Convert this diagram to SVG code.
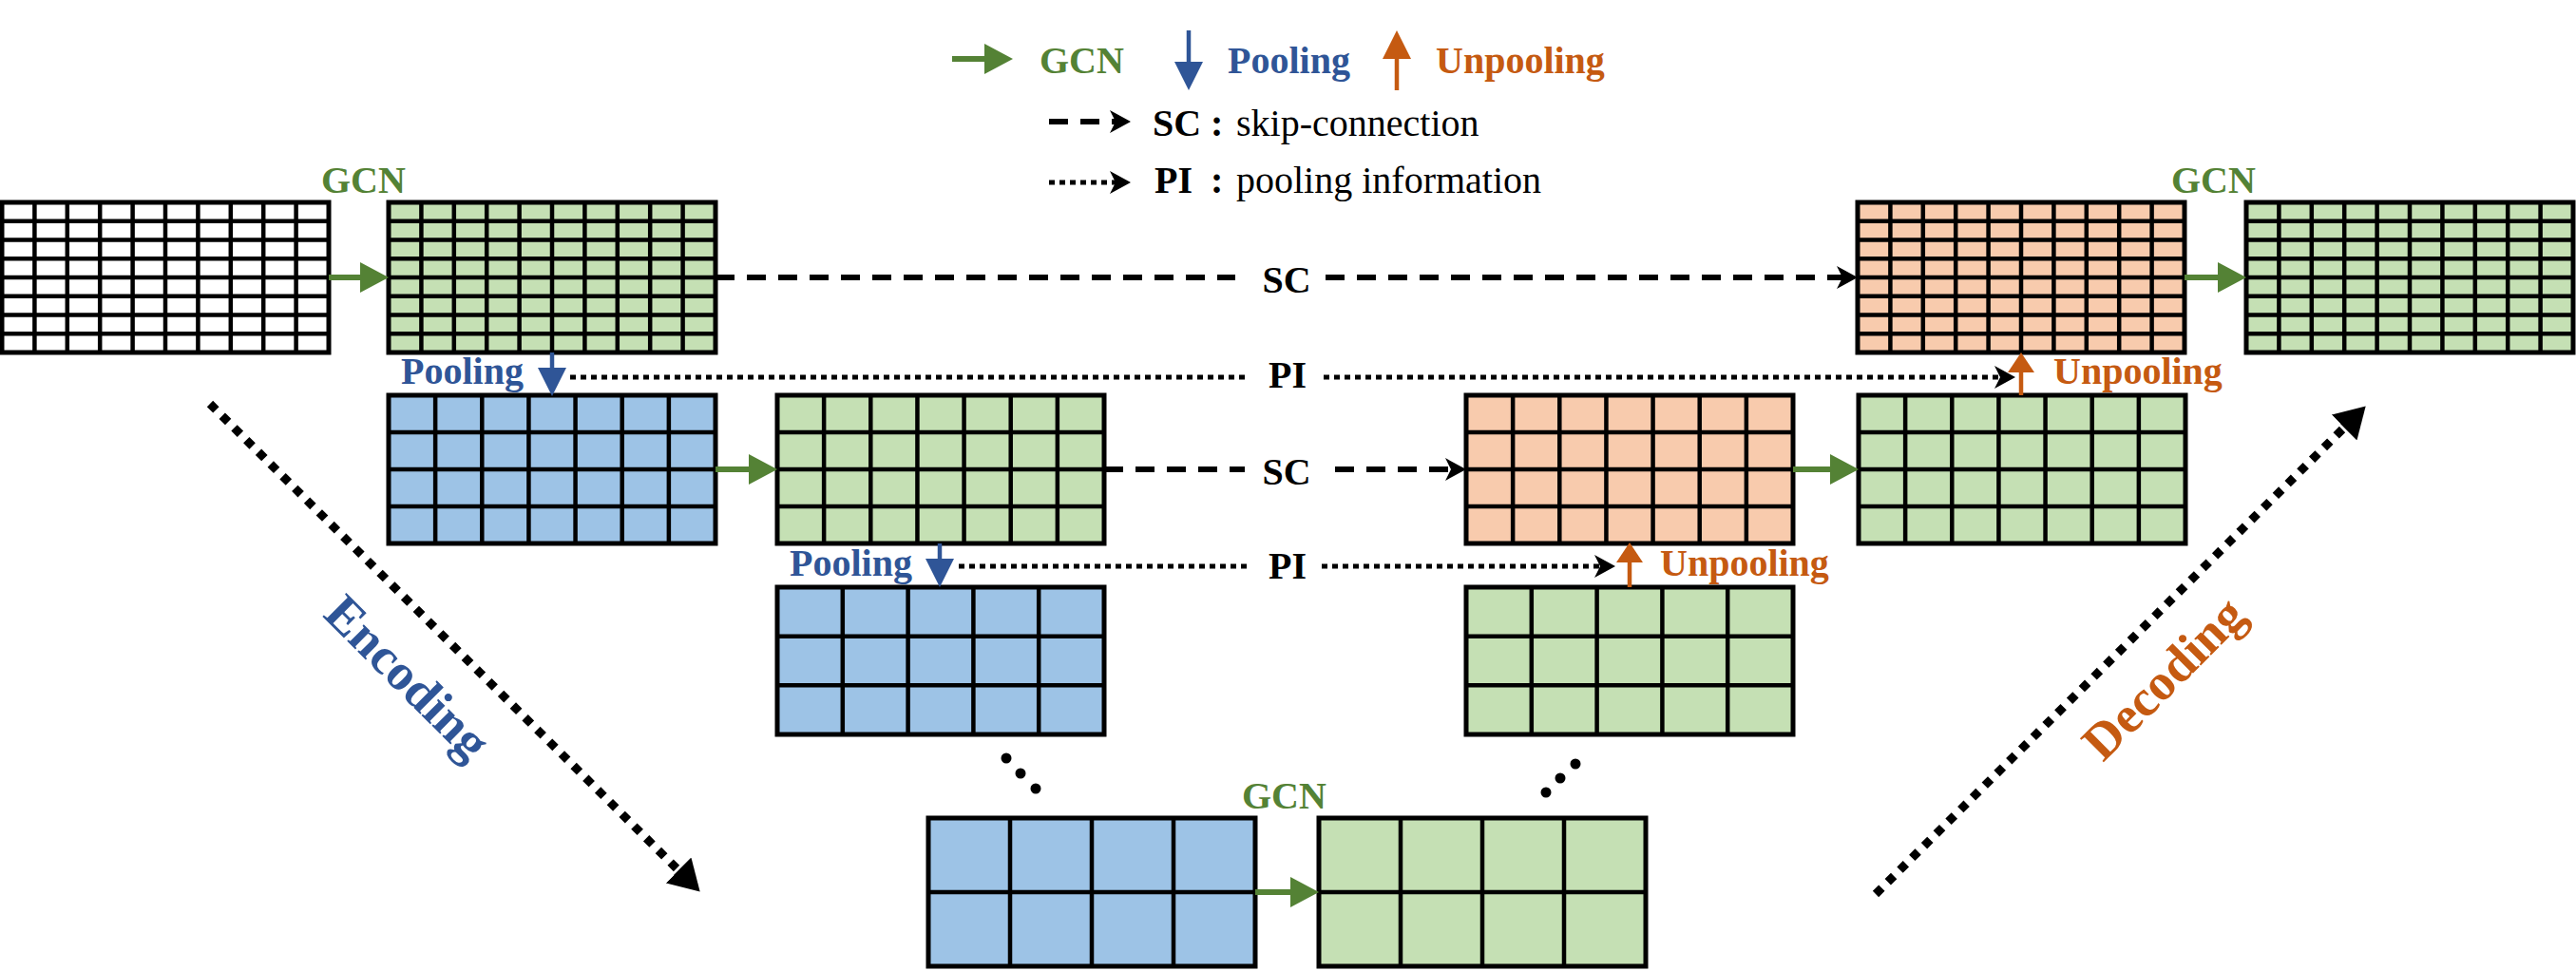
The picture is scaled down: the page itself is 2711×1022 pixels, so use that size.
<svg xmlns="http://www.w3.org/2000/svg" xmlns:xlink="http://www.w3.org/1999/xlink" width="2711" height="1022" viewBox="0 0 2711 1022">
<style>
.wh{fill:#ffffff}.gr{fill:#C5E0B4}.bl{fill:#9DC3E6}.or{fill:#F8CBAD}
.frame{fill:none;stroke:#000;stroke-width:5}
.lines{fill:none;stroke:#000;stroke-width:4.5}
.t{font-family:"Liberation Serif","Times New Roman",serif;font-weight:bold;font-size:40px}
.big{font-size:54px}
.g{fill:#548235}.b{fill:#2F5597}.o{fill:#C55A11}.k{fill:#000}
.ag{stroke:#548235;stroke-width:6;fill:none}
.ab{stroke:#2F5597;stroke-width:4.5;fill:none}
.ao{stroke:#C55A11;stroke-width:4.5;fill:none}
.sc{stroke:#000;stroke-width:6;stroke-dasharray:20 13;fill:none}
.pi{stroke:#000;stroke-width:5;stroke-dasharray:6 5;fill:none}
.dir{stroke:#000;stroke-width:9;stroke-dasharray:9 9;fill:none}
</style>
<defs>
<marker id="mG" markerUnits="userSpaceOnUse" markerWidth="30" markerHeight="32" refX="0" refY="16" orient="auto" viewBox="0 0 30 32"><path d="M0,0 L30,16 L0,32 Z" fill="#548235"/></marker>
<marker id="mB" markerUnits="userSpaceOnUse" markerWidth="30" markerHeight="30" refX="0" refY="15" orient="auto" viewBox="0 0 30 30"><path d="M0,0 L30,15 L0,30 Z" fill="#2F5597"/></marker>
<marker id="mO" markerUnits="userSpaceOnUse" markerWidth="30" markerHeight="30" refX="0" refY="15" orient="auto" viewBox="0 0 30 30"><path d="M0,0 L30,15 L0,30 Z" fill="#C55A11"/></marker>
<marker id="mOs" markerUnits="userSpaceOnUse" markerWidth="21" markerHeight="28" refX="0" refY="14" orient="auto" viewBox="0 0 21 28"><path d="M0,0 L21,14 L0,28 Z" fill="#C55A11"/></marker>
<marker id="mC" markerUnits="userSpaceOnUse" markerWidth="22" markerHeight="24" refX="14" refY="12" orient="auto" viewBox="0 0 22 24"><path d="M0,0 L22,12 L0,24 L6,12 Z" fill="#000"/></marker>
<marker id="mT" markerUnits="userSpaceOnUse" markerWidth="32" markerHeight="38" refX="0" refY="19" orient="auto" viewBox="0 0 32 38"><path d="M0,0 L32,19 L0,38 Z" fill="#000"/></marker>
<g id="l10x8"><path class="lines" d="M34.4,0V158M68.8,0V158M103.2,0V158M137.6,0V158M172,0V158M206.4,0V158M240.8,0V158M275.2,0V158M309.6,0V158M0,19.75H344M0,39.5H344M0,59.25H344M0,79H344M0,98.75H344M0,118.5H344M0,138.25H344"/><rect class="frame" width="344" height="158"/></g>
<g id="l7x4"><path class="lines" d="M49.14,0V156M98.29,0V156M147.43,0V156M196.57,0V156M245.71,0V156M294.86,0V156M0,39H344M0,78H344M0,117H344"/><rect class="frame" width="344" height="156"/></g>
<g id="l5x3"><path class="lines" d="M68.8,0V155M137.6,0V155M206.4,0V155M275.2,0V155M0,51.67H344M0,103.33H344"/><rect class="frame" width="344" height="155"/></g>
<g id="l4x2"><path class="lines" d="M86,0V156M172,0V156M258,0V156M0,78H344"/><rect class="frame" width="344" height="156"/></g>
</defs>
<rect width="2711" height="1022" fill="#fff"/>

<g id="legend">
<path class="ag" d="M1002,62H1036" marker-end="url(#mG)"/>
<text class="t g" x="1094" y="77">GCN</text>
<path class="ab" d="M1251,32V65" marker-end="url(#mB)"/>
<text class="t b" x="1292" y="77">Pooling</text>
<path class="ao" d="M1470,95V62" marker-end="url(#mO)"/>
<text class="t o" x="1511" y="77">Unpooling</text>
<path class="sc" d="M1104,128H1182" marker-end="url(#mC)"/>
<text class="t k" x="1213" y="143">SC<tspan x="1274">:</tspan><tspan x="1301" font-weight="normal">skip-connection</tspan></text>
<path class="pi" d="M1104,192H1182" marker-end="url(#mC)"/>
<text class="t k" x="1215" y="203">PI<tspan x="1274">:</tspan><tspan x="1301" font-weight="normal">pooling information</tspan></text>
</g>

<g id="node-input" transform="translate(2,213)"><rect class="wh" width="344" height="158"/><use xlink:href="#l10x8"/></g>
<g id="node-enc1" transform="translate(409,213)"><rect class="gr" width="344" height="158"/><use xlink:href="#l10x8"/></g>
<g id="node-dec1" transform="translate(1955,213)"><rect class="or" width="344" height="158"/><use xlink:href="#l10x8"/></g>
<g id="node-output" transform="translate(2364,213)"><rect class="gr" width="344" height="158"/><use xlink:href="#l10x8"/></g>
<g id="node-pool1" transform="translate(409,416)"><rect class="bl" width="344" height="156"/><use xlink:href="#l7x4"/></g>
<g id="node-enc2" transform="translate(818,416)"><rect class="gr" width="344" height="156"/><use xlink:href="#l7x4"/></g>
<g id="node-dec2" transform="translate(1543,416)"><rect class="or" width="344" height="156"/><use xlink:href="#l7x4"/></g>
<g id="node-dec2g" transform="translate(1956,416)"><rect class="gr" width="344" height="156"/><use xlink:href="#l7x4"/></g>
<g id="node-pool2" transform="translate(818,618)"><rect class="bl" width="344" height="155"/><use xlink:href="#l5x3"/></g>
<g id="node-dec3" transform="translate(1543,618)"><rect class="gr" width="344" height="155"/><use xlink:href="#l5x3"/></g>
<g id="node-bottleneck-in" transform="translate(977,861)"><rect class="bl" width="344" height="156"/><use xlink:href="#l4x2"/></g>
<g id="node-bottleneck-out" transform="translate(1388,861)"><rect class="gr" width="344" height="156"/><use xlink:href="#l4x2"/></g>

<g id="connectors">
<path class="ag" d="M346,292H379" marker-end="url(#mG)"/>
<path class="ag" d="M2299,292H2334" marker-end="url(#mG)"/>
<path class="ag" d="M753,494H788" marker-end="url(#mG)"/>
<path class="ag" d="M1887,494H1926" marker-end="url(#mG)"/>
<path class="ag" d="M1321,939H1358" marker-end="url(#mG)"/>
<path class="ab" d="M581,371V387" marker-end="url(#mB)"/>
<path class="ab" d="M989,572V588" marker-end="url(#mB)"/>
<path class="ao" d="M2127,416V392" marker-end="url(#mOs)"/>
<path class="ao" d="M1715,618V592" marker-end="url(#mOs)"/>
<path class="sc" d="M753,292H1300"/>
<path class="sc" d="M1395,292H1947" marker-end="url(#mC)"/>
<path class="sc" d="M1162,494H1310"/>
<path class="sc" d="M1405,494H1535" marker-end="url(#mC)"/>
<path class="pi" d="M600,397H1314"/>
<path class="pi" d="M1393,397H2113" marker-end="url(#mC)"/>
<path class="pi" d="M1009,596H1314"/>
<path class="pi" d="M1391,596H1692" marker-end="url(#mC)"/>
<path class="dir" d="M221,425L714,916" marker-end="url(#mT)"/>
<path class="dir" d="M1974,941L2467,450" marker-end="url(#mT)"/>
<circle cx="1059" cy="798" r="5.5"/><circle cx="1074" cy="814" r="5.5"/><circle cx="1090" cy="830" r="5.5"/>
<circle cx="1658" cy="804" r="5.5"/><circle cx="1642" cy="819" r="5.5"/><circle cx="1627" cy="834" r="5.5"/>
</g>

<g id="labels">
<text class="t g" x="338" y="203">GCN</text>
<text class="t g" x="2285" y="203">GCN</text>
<text class="t g" x="1307" y="851">GCN</text>
<text class="t b" x="422" y="404">Pooling</text>
<text class="t b" x="831" y="606">Pooling</text>
<text class="t o" x="2161" y="404">Unpooling</text>
<text class="t o" x="1747" y="606">Unpooling</text>
<text class="t k" x="1354" y="308" text-anchor="middle">SC</text>
<text class="t k" x="1354" y="510" text-anchor="middle">SC</text>
<text class="t k" x="1355" y="408" text-anchor="middle">PI</text>
<text class="t k" x="1355" y="609" text-anchor="middle">PI</text>
<text class="t big b" transform="translate(429,713) rotate(45)" x="0" y="18" text-anchor="middle">Encoding</text>
<text class="t big o" transform="translate(2277,714) rotate(-45)" x="0" y="18" text-anchor="middle">Decoding</text>
</g>
</svg>
